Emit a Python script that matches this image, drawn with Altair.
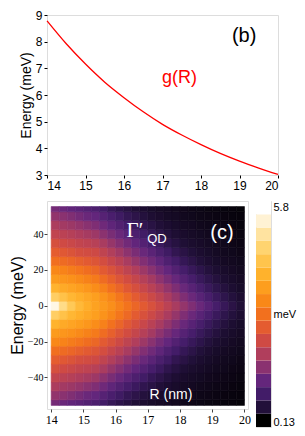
import altair as alt
import pandas as pd

# ---------------- top panel (b): g(R) ----------------
R_pts = [14.0, 14.5, 15.0, 15.5, 16.0, 16.5, 17.0, 17.5, 18.0, 18.5, 19.0, 19.5, 20.0]
g_vals = [8.78, 7.92, 7.16, 6.48, 5.90, 5.37, 4.90, 4.50, 4.14, 3.81, 3.52, 3.26, 3.02]

# ---------------- bottom panel (c): Gamma'_QD(R, E) ----------------
R_cells = [14.125, 14.375, 14.625, 14.875, 15.125, 15.375, 15.625, 15.875,
           16.125, 16.375, 16.625, 16.875, 17.125, 17.375, 17.625, 17.875,
           18.125, 18.375, 18.625, 18.875, 19.125, 19.375, 19.625, 19.875]
row_0 = [5.50, 4.80, 4.40, 4.10, 3.90, 3.70, 3.55, 3.40, 3.20, 3.00, 2.80, 2.60, 2.42, 2.25, 2.08, 1.90, 1.72, 1.53, 1.35, 1.18, 1.00, 0.85, 0.72, 0.60]
row_5 = [4.51, 4.27, 4.05, 3.92, 3.79, 3.65, 3.46, 3.27, 3.05, 2.84, 2.62, 2.43, 2.26, 2.09, 1.92, 1.73, 1.53, 1.36, 1.19, 1.03, 0.88, 0.76, 0.65, 0.55]
row_10 = [3.99, 3.84, 3.74, 3.63, 3.52, 3.38, 3.20, 2.98, 2.78, 2.56, 2.39, 2.22, 2.06, 1.89, 1.71, 1.52, 1.34, 1.18, 1.02, 0.88, 0.76, 0.66, 0.56, 0.49]
row_15 = [3.59, 3.51, 3.43, 3.33, 3.22, 3.11, 2.90, 2.70, 2.50, 2.34, 2.18, 2.02, 1.86, 1.67, 1.48, 1.32, 1.16, 1.01, 0.87, 0.76, 0.66, 0.56, 0.50, 0.45]
row_20 = [3.30, 3.23, 3.13, 3.04, 2.92, 2.81, 2.60, 2.44, 2.28, 2.12, 1.97, 1.80, 1.62, 1.44, 1.29, 1.13, 0.99, 0.86, 0.75, 0.65, 0.56, 0.50, 0.45, 0.41]
row_25 = [2.95, 2.88, 2.79, 2.69, 2.60, 2.51, 2.36, 2.20, 2.06, 1.90, 1.73, 1.56, 1.40, 1.25, 1.09, 0.97, 0.83, 0.73, 0.63, 0.55, 0.49, 0.44, 0.41, 0.37]
row_30 = [2.65, 2.56, 2.48, 2.38, 2.33, 2.28, 2.13, 1.98, 1.83, 1.66, 1.49, 1.34, 1.20, 1.05, 0.93, 0.80, 0.71, 0.62, 0.54, 0.49, 0.44, 0.40, 0.37, 0.33]
row_35 = [2.40, 2.30, 2.23, 2.16, 2.11, 2.04, 1.90, 1.74, 1.58, 1.42, 1.28, 1.14, 1.01, 0.89, 0.77, 0.68, 0.59, 0.53, 0.48, 0.44, 0.40, 0.37, 0.33, 0.30]
row_40 = [2.15, 2.08, 2.02, 1.95, 1.88, 1.80, 1.64, 1.48, 1.34, 1.20, 1.07, 0.95, 0.83, 0.74, 0.65, 0.57, 0.51, 0.47, 0.43, 0.39, 0.36, 0.33, 0.30, 0.28]
row_45 = [1.93, 1.85, 1.79, 1.72, 1.62, 1.53, 1.39, 1.25, 1.12, 1.00, 0.89, 0.78, 0.70, 0.61, 0.55, 0.50, 0.45, 0.42, 0.38, 0.35, 0.32, 0.30, 0.27, 0.25]
row_50 = [1.70, 1.63, 1.54, 1.45, 1.35, 1.29, 1.16, 1.04, 0.93, 0.82, 0.74, 0.65, 0.57, 0.52, 0.47, 0.44, 0.40, 0.37, 0.34, 0.32, 0.29, 0.27, 0.25, 0.23]
row_55 = [1.45, 1.35, 1.27, 1.21, 1.13, 1.06, 0.96, 0.84, 0.75, 0.68, 0.60, 0.54, 0.49, 0.45, 0.42, 0.39, 0.36, 0.33, 0.31, 0.28, 0.26, 0.24, 0.23, 0.21]
E_rows = [-55, -50, -45, -40, -35, -30, -25, -20, -15, -10, -5, 0,
          5, 10, 15, 20, 25, 30, 35, 40, 45, 50, 55]
gamma_rows = [row_55, row_50, row_45, row_40, row_35, row_30, row_25, row_20, row_15, row_10, row_5, row_0,
              row_5, row_10, row_15, row_20, row_25, row_30, row_35, row_40, row_45, row_50, row_55]

# colour bar (17 bands from 0.13 to 5.8 meV)
cbar_lo = 0.13
cbar_hi = 5.8
cbar_colors = ["#000000", "#22103a", "#421c68", "#64267c", "#8a3270", "#b03e5c",
               "#cf4a44", "#e45c30", "#f2701e", "#f98818", "#fd9e1e", "#ffb22c",
               "#ffc44c", "#ffd470", "#ffe3a0", "#fff2d4", "#ffffff"]

top_x_ticks = [14, 15, 16, 17, 18, 19, 20]
top_y_ticks = [3, 4, 5, 6, 7, 8, 9]
heat_x_ticks = [14, 15, 16, 17, 18, 19, 20]
heat_y_ticks = [-40, -20, 0, 20, 40]

SANS = "Liberation Sans"
SERIF = "Liberation Serif"

# ---------- top chart ----------
df_g = pd.DataFrame({"R": R_pts, "g": g_vals})
xs_top = alt.Scale(domain=[14, 20], nice=False)
ys_top = alt.Scale(domain=[3, 9], nice=False)
ax_top_x = alt.Axis(title=None, values=top_x_ticks, tickCount=len(top_x_ticks), grid=False, domain=False,
                    tickSize=3, tickColor="black", labelColor="black", labelFont=SANS,
                    labelFontSize=12, labelPadding=2, labelOverlap=False)
ax_top_y = alt.Axis(title="Energy  (meV)", values=top_y_ticks, tickCount=len(top_y_ticks), grid=False,
                    domain=False, tickSize=3, tickColor="black", labelColor="black", labelFont=SANS,
                    labelFontSize=12, labelPadding=2, labelOverlap=False, titleFont=SANS,
                    titleFontSize=14, titleFontWeight="normal", titleColor="black", titlePadding=2)
top_line = alt.Chart(df_g).mark_line(color="#ff0000", strokeWidth=1.3, interpolate="monotone").encode(
    x=alt.X("R:Q", scale=xs_top, axis=ax_top_x),
    y=alt.Y("g:Q", scale=ys_top, axis=ax_top_y),
)
df_btxt = pd.DataFrame({"R": [19.12, 17.44], "v": [8.22, 6.62], "t": ["(b)", "g(R)"],
                        "c": ["#000000", "#ff0000"], "s": [20, 18]})
top_text = alt.Chart(df_btxt).mark_text(font=SANS, baseline="middle", align="center").encode(
    x=alt.X("R:Q", scale=xs_top, axis=ax_top_x), y=alt.Y("v:Q", scale=ys_top, axis=ax_top_y), text="t:N",
    color=alt.Color("c:N", scale=None), size=alt.Size("s:Q", scale=None))
top = alt.layer(top_line, top_text).properties(width=231, height=160)

# ---------- heatmap ----------
recs = []
for E, row in zip(E_rows, gamma_rows):
    for R, v in zip(R_cells, row):
        recs.append({"R": R, "E": E, "v": v})
df_h = pd.DataFrame(recs)
df_h["x0"] = df_h["R"] - 0.125
df_h["x1"] = df_h["R"] + 0.125
df_h["y0"] = (df_h["E"] - 2.5).clip(-55.6, 55.4)
df_h["y1"] = (df_h["E"] + 2.5).clip(-55.6, 55.4)

band_w = (cbar_hi - cbar_lo) / len(cbar_colors)
band_mid = [cbar_lo + band_w * (i + 0.5) for i in range(len(cbar_colors))]
stops = [cbar_lo] + band_mid[1:-1] + [cbar_hi]
cscale = alt.Scale(domain=stops, range=cbar_colors, interpolate="rgb", clamp=True)

xs_h = alt.Scale(domain=[13.87, 20.11], nice=False)
ys_h = alt.Scale(domain=[-57.6, 58.5], nice=False)
ax_h_x = alt.Axis(title=None, values=heat_x_ticks, tickCount=len(heat_x_ticks), grid=False, domain=False,
                  tickSize=3, tickColor="#444", labelColor="black", labelFont=SERIF,
                  labelFontSize=12, labelPadding=2, labelOverlap=False)
ax_h_y = alt.Axis(title="Energy  (meV)", values=heat_y_ticks, tickCount=len(heat_y_ticks), grid=False,
                  domain=False, tickSize=3, tickColor="#444", labelColor="black", labelFont=SERIF,
                  labelFontSize=10, labelPadding=1, labelOverlap=False, titleFont=SANS,
                  titleFontSize=16, titleFontWeight="normal", titleColor="black", titlePadding=2)
heat = alt.Chart(df_h).mark_rect(strokeWidth=0.6).encode(
    x=alt.X("x0:Q", scale=xs_h, axis=ax_h_x),
    x2="x1:Q",
    y=alt.Y("y0:Q", scale=ys_h, axis=ax_h_y),
    y2="y1:Q",
    fill=alt.Fill("v:Q", scale=cscale, legend=None),
    stroke=alt.Stroke("v:Q", scale=cscale, legend=None),
)
df_ctxt = pd.DataFrame({
    "R": [16.6, 16.98, 19.3, 17.72],
    "E": [42.0, 37.5, 40.7, -49.7],
    "t": ["Γ′", "QD", "(c)", "R  (nm)"],
    "f": [SERIF, SANS, SANS, SANS],
    "s": [21, 13, 20, 14],
    "a": ["center", "left", "center", "center"],
})
ctext = []
for i in range(len(df_ctxt)):
    ctext.append(alt.Chart(df_ctxt.iloc[[i]]).mark_text(
        font=df_ctxt["f"][i], fontSize=int(df_ctxt["s"][i]), align=df_ctxt["a"][i],
        baseline="middle", color="white").encode(
        x=alt.X("R:Q", scale=xs_h, axis=ax_h_x), y=alt.Y("E:Q", scale=ys_h, axis=ax_h_y), text="t:N"))
bottom = alt.layer(heat, *ctext).properties(width=201, height=208)

# ---------- colour bar ----------
CB_H = 226
df_cb = pd.DataFrame({
    "lo": [cbar_lo + band_w * i for i in range(len(cbar_colors))],
    "hi": [cbar_lo + band_w * (i + 1) for i in range(len(cbar_colors))],
    "col": cbar_colors,
})
cb = alt.Chart(df_cb).mark_rect().encode(
    x=alt.value(0), x2=alt.value(15),
    y=alt.Y("lo:Q", scale=alt.Scale(domain=[cbar_lo, cbar_hi], nice=False),
            axis=alt.Axis(orient="right", title="meV", values=[cbar_lo, cbar_hi], tickCount=2,
                          labelExpr="datum.value == 0.13 ? '0.13' : '5.8'", labelFlush=True,
                          grid=False, domain=False, ticks=False, labelPadding=2, labelFont=SANS,
                          labelFontSize=11, labelColor="black", labelOverlap=False, titleFont=SANS,
                          titleFontSize=11, titleFontWeight="normal", titleColor="black", titleAngle=0,
                          titleAlign="left", titleBaseline="middle", titleX=2, titleY=CB_H / 2)),
    y2="hi:Q",
    fill=alt.Fill("col:N", scale=None),
).properties(width=15, height=CB_H)

lower = alt.hconcat(bottom, cb, spacing=8, bounds="flush")
chart = alt.vconcat(top, lower, spacing=8).properties(padding=0).configure_view(
    stroke="black", strokeWidth=1).configure(background="white")

chart.save("out.html", embed_options={"renderer": "svg", "actions": False})
